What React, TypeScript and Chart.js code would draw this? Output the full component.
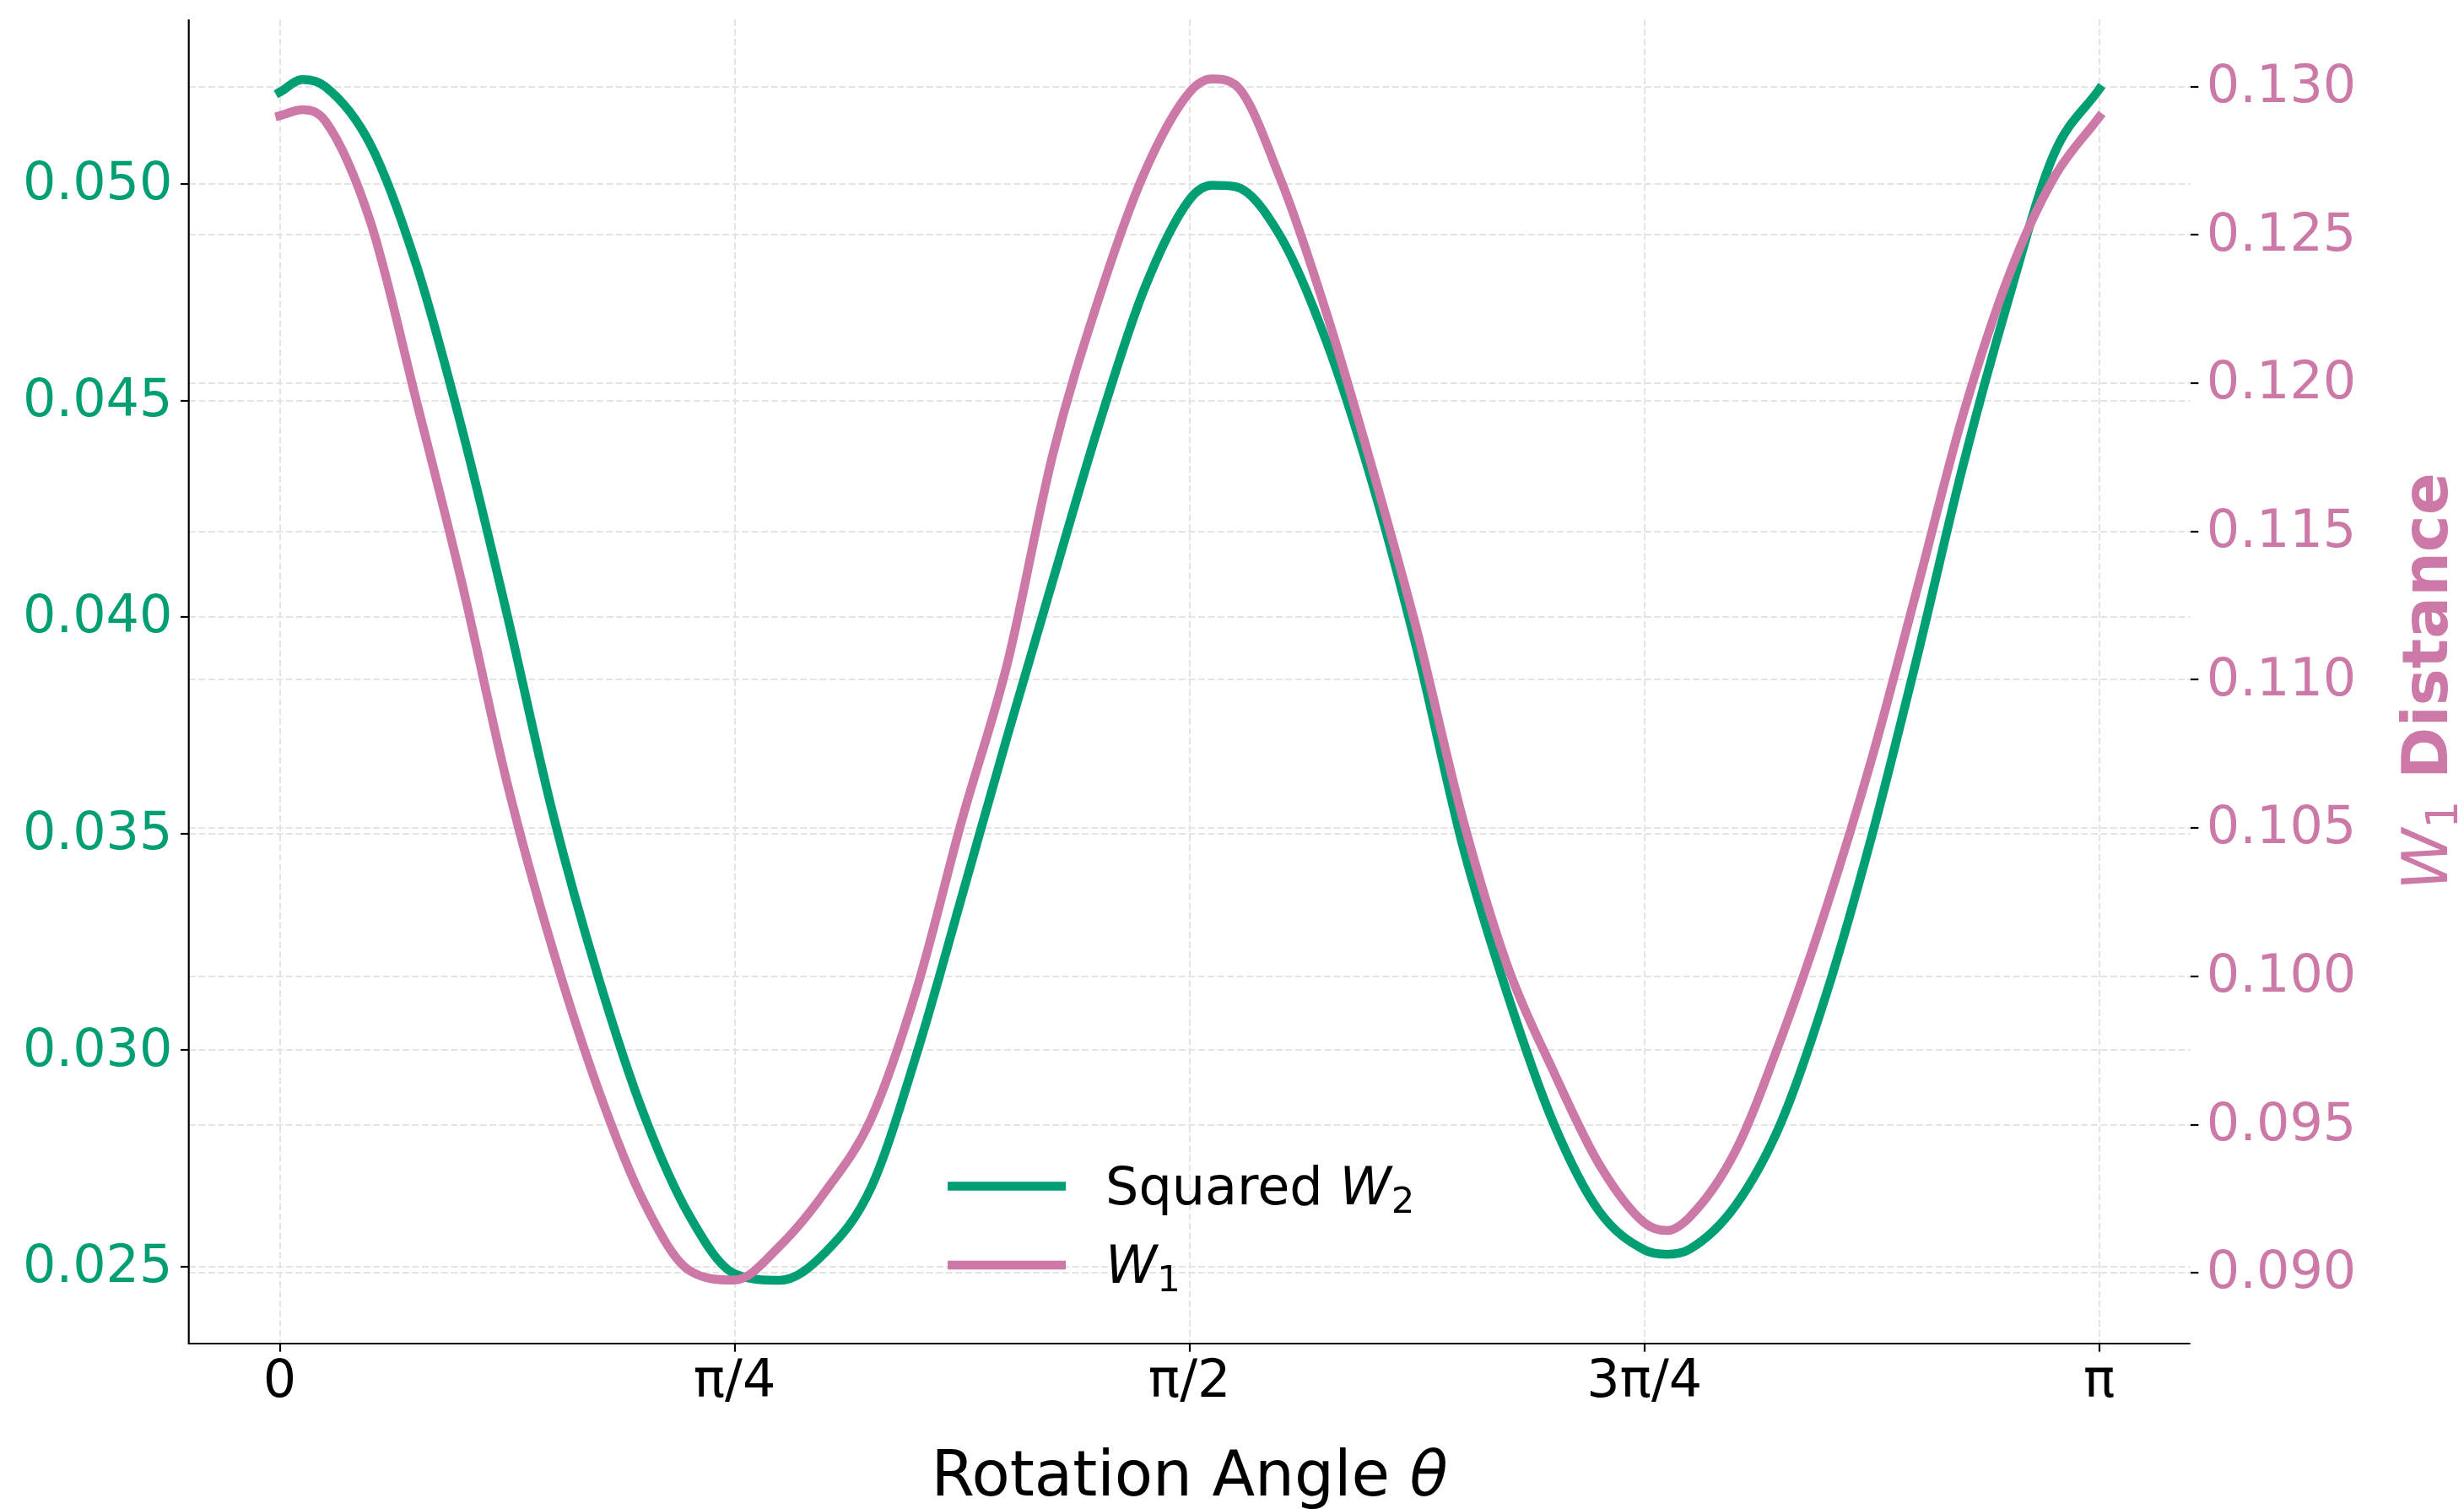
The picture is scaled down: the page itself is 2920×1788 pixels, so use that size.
import React, { useEffect, useRef } from 'react';
import { Chart, registerables } from 'chart.js';

Chart.register(...registerables);

// ---------- data (θ in units of π) ----------
const thetaOverPi = [
  0, 0.0125, 0.025, 0.05, 0.075, 0.1, 0.125, 0.15, 0.175, 0.2, 0.225, 0.25, 0.275, 0.3,
  0.325, 0.35, 0.375, 0.4, 0.425, 0.45, 0.475, 0.5, 0.5125, 0.525, 0.55, 0.575, 0.6,
  0.625, 0.65, 0.675, 0.7, 0.725, 0.75, 0.7625, 0.775, 0.8, 0.825, 0.85, 0.875, 0.9,
  0.925, 0.95, 0.975, 1.0,
];

const squaredW2 = [
  0.05212, 0.05241, 0.05225, 0.0509, 0.04814, 0.04437, 0.04005, 0.03548, 0.0317, 0.02853,
  0.02619, 0.02484, 0.02469, 0.02534, 0.02683, 0.02991, 0.03357, 0.03727, 0.04086, 0.04441,
  0.04756, 0.04964, 0.04997, 0.04994, 0.04879, 0.04639, 0.04316, 0.03925, 0.03475, 0.03126,
  0.02832, 0.02629, 0.02539, 0.02529, 0.02541, 0.02641, 0.02832, 0.0313, 0.03495, 0.0391,
  0.04348, 0.04732, 0.05068, 0.05219,
];

const w1 = [
  0.12902, 0.12922, 0.12884, 0.12541, 0.11943, 0.1133, 0.10651, 0.10092, 0.0962, 0.09241,
  0.09009, 0.08976, 0.09092, 0.09276, 0.0952, 0.09956, 0.10529, 0.11058, 0.11763, 0.12283,
  0.12707, 0.12981, 0.13026, 0.13007, 0.12688, 0.12242, 0.11723, 0.11166, 0.10536, 0.10031,
  0.0968, 0.09368, 0.09169, 0.09143, 0.09189, 0.0941, 0.09789, 0.10232, 0.10735, 0.11309,
  0.11891, 0.12358, 0.12692, 0.12898,
];

const seriesLabels = ['Squared W₂', 'W₁'];
const xTickValues = [0, 0.25, 0.5, 0.75, 1];
const xTickLabels = ['0', 'π/4', 'π/2', '3π/4', 'π'];
const leftTicks = [0.025, 0.03, 0.035, 0.04, 0.045, 0.05];
const rightTicks = [0.09, 0.095, 0.1, 0.105, 0.11, 0.115, 0.12, 0.125, 0.13];
const xRange = [-0.05, 1.05];
const leftRange = [0.023227, 0.0538];
const rightRange = [0.087618, 0.132268];

type Run = { text: string; italic?: boolean; bold?: boolean; sub?: boolean };
const legendRuns: Run[][] = [
  [{ text: 'Squared ' }, { text: 'W', italic: true }, { text: '2', sub: true }],
  [{ text: 'W', italic: true }, { text: '1', sub: true }],
];
const xTitleRuns: Run[] = [{ text: 'Rotation Angle ' }, { text: 'θ', italic: true }];
const yRightTitleRuns: Run[] = [
  { text: 'W', italic: true },
  { text: '1', sub: true },
  { text: ' Distance', bold: true },
];

// ---------- styles ----------
const FONT = '"DejaVu Sans"';
const GREEN = '#009E73';
const PINK = '#CC79A7';
const GRID = '#e4e4e4';
const TICK_SIZE = 62;
const LABEL_SIZE = 74;

function runFont(r: Run, size: number) {
  const s = r.sub ? size * 0.7 : size;
  return `${r.italic ? 'italic ' : ''}${r.bold ? 'bold ' : ''}${s}px ${FONT}`;
}
function measureRuns(ctx: CanvasRenderingContext2D, runs: Run[], size: number) {
  let w = 0;
  for (const r of runs) {
    ctx.font = runFont(r, size);
    w += ctx.measureText(r.text).width;
  }
  return w;
}
function drawRuns(ctx: CanvasRenderingContext2D, runs: Run[], x: number, y: number, size: number, color: string) {
  ctx.fillStyle = color;
  ctx.textAlign = 'left';
  ctx.textBaseline = 'alphabetic';
  let cx = x;
  for (const r of runs) {
    ctx.font = runFont(r, size);
    ctx.fillText(r.text, cx, y + (r.sub ? size * 0.16 : 0));
    cx += ctx.measureText(r.text).width;
  }
}

const textPlugin = {
  id: 'mplText',
  afterDraw(chart: any) {
    const { ctx, chartArea: a } = chart;
    ctx.save();
    // spines (left + bottom)
    ctx.strokeStyle = '#000';
    ctx.lineWidth = 2.2;
    ctx.lineJoin = 'miter';
    ctx.lineCap = 'butt';
    ctx.setLineDash([]);
    ctx.beginPath();
    ctx.moveTo(a.left, a.top);
    ctx.lineTo(a.left, a.bottom);
    ctx.lineTo(a.right, a.bottom);
    ctx.stroke();

    const cx = (a.left + a.right) / 2;
    // legend (lower center, no frame)
    const x0 = cx - 286.6;
    const rows = [a.bottom - 186.4, a.bottom - 93];
    chart.data.datasets.forEach((ds: any, i: number) => {
      const y = rows[i];
      ctx.strokeStyle = ds.borderColor;
      ctx.lineWidth = 10.5;
      ctx.lineCap = 'butt';
      ctx.beginPath();
      ctx.moveTo(x0, y);
      ctx.lineTo(x0 + 140, y);
      ctx.stroke();
      drawRuns(ctx, legendRuns[i], x0 + 187, y + 21, TICK_SIZE, '#000');
    });

    // x-axis title
    const wx = measureRuns(ctx, xTitleRuns, LABEL_SIZE);
    drawRuns(ctx, xTitleRuns, cx - wx / 2, a.bottom + 179.7, LABEL_SIZE, '#000');

    // right y-axis title (rotated, reading bottom to top)
    const wy = measureRuns(ctx, yRightTitleRuns, LABEL_SIZE);
    ctx.translate(a.right + 304.4, (a.top + a.bottom) / 2);
    ctx.rotate(-Math.PI / 2);
    drawRuns(ctx, yRightTitleRuns, -wy / 2, 0, LABEL_SIZE, PINK);
    ctx.restore();
  },
};

const zeroPad = (s: any) => {
  s.paddingTop = 0;
  s.paddingBottom = 0;
  s.paddingLeft = 0;
  s.paddingRight = 0;
};

export default function App() {
  const canvasRef = useRef<HTMLCanvasElement | null>(null);

  useEffect(() => {
    if (!canvasRef.current) return;
    Chart.defaults.font.family = FONT;
    const gridCommon = {
      color: GRID,
      lineWidth: 2,
      drawTicks: true,
      tickLength: 9.7,
      tickColor: '#000',
      tickWidth: 2.2,
      tickBorderDash: [],
    };
    const borderCommon = { display: false, dash: [8, 3.5] };

    const chart = new Chart(canvasRef.current, {
      type: 'line',
      data: {
        datasets: [
          {
            label: seriesLabels[0],
            data: thetaOverPi.map((t, i) => ({ x: t, y: squaredW2[i] })),
            yAxisID: 'y',
            borderColor: GREEN,
            backgroundColor: GREEN,
            borderWidth: 10.5,
            pointRadius: 0,
            cubicInterpolationMode: 'monotone',
            borderCapStyle: 'square',
            borderJoinStyle: 'round',
            fill: false,
            order: 1,
          },
          {
            label: seriesLabels[1],
            data: thetaOverPi.map((t, i) => ({ x: t, y: w1[i] })),
            yAxisID: 'y2',
            borderColor: PINK,
            backgroundColor: PINK,
            borderWidth: 10.5,
            pointRadius: 0,
            cubicInterpolationMode: 'monotone',
            borderCapStyle: 'square',
            borderJoinStyle: 'round',
            fill: false,
            order: 0,
          },
        ],
      },
      options: {
        animation: false,
        responsive: false,
        maintainAspectRatio: false,
        events: [],
        layout: { padding: { top: 23, left: 0, right: 0, bottom: 0 } },
        plugins: {
          legend: { display: false },
          tooltip: { enabled: false },
          title: { display: false },
        },
        scales: {
          x: {
            type: 'linear',
            position: 'bottom',
            min: xRange[0],
            max: xRange[1],
            afterBuildTicks: (s: any) => {
              s.ticks = xTickValues.map((v) => ({ value: v }));
            },
            afterFit: (s: any) => {
              s.height = 196;
              zeroPad(s);
            },
            ticks: {
              color: '#000',
              font: { size: TICK_SIZE, family: FONT },
              padding: 0,
              maxRotation: 0,
              minRotation: 0,
              autoSkip: false,
              callback: (v: any) => {
                const k = xTickValues.indexOf(Number(v));
                return k >= 0 ? xTickLabels[k] : '';
              },
            },
            grid: gridCommon,
            border: borderCommon,
          },
          y: {
            type: 'linear',
            position: 'left',
            min: leftRange[0],
            max: leftRange[1],
            afterBuildTicks: (s: any) => {
              s.ticks = leftTicks.map((v) => ({ value: v }));
            },
            afterFit: (s: any) => {
              s.width = 223.7;
              zeroPad(s);
            },
            ticks: {
              color: GREEN,
              font: { size: TICK_SIZE, family: FONT },
              padding: 9.5,
              labelOffset: 2,
              autoSkip: false,
              callback: (v: any) => Number(v).toFixed(3),
            },
            grid: gridCommon,
            border: borderCommon,
          },
          y2: {
            type: 'linear',
            position: 'right',
            min: rightRange[0],
            max: rightRange[1],
            afterBuildTicks: (s: any) => {
              s.ticks = rightTicks.map((v) => ({ value: v }));
            },
            afterFit: (s: any) => {
              s.width = 324.4;
              zeroPad(s);
            },
            ticks: {
              color: PINK,
              font: { size: TICK_SIZE, family: FONT },
              padding: 9.5,
              labelOffset: 2,
              autoSkip: false,
              callback: (v: any) => Number(v).toFixed(3),
            },
            grid: gridCommon,
            border: borderCommon,
          },
        },
      } as any,
      plugins: [textPlugin as any],
    });
    return () => chart.destroy();
  }, []);

  return (
    <div style={{ position: 'absolute', left: 0, top: 0, width: 2920, height: 1788, background: '#fff' }}>
      <canvas ref={canvasRef} width={2920} height={1788} style={{ width: 2920, height: 1788, display: 'block' }} />
    </div>
  );
}
